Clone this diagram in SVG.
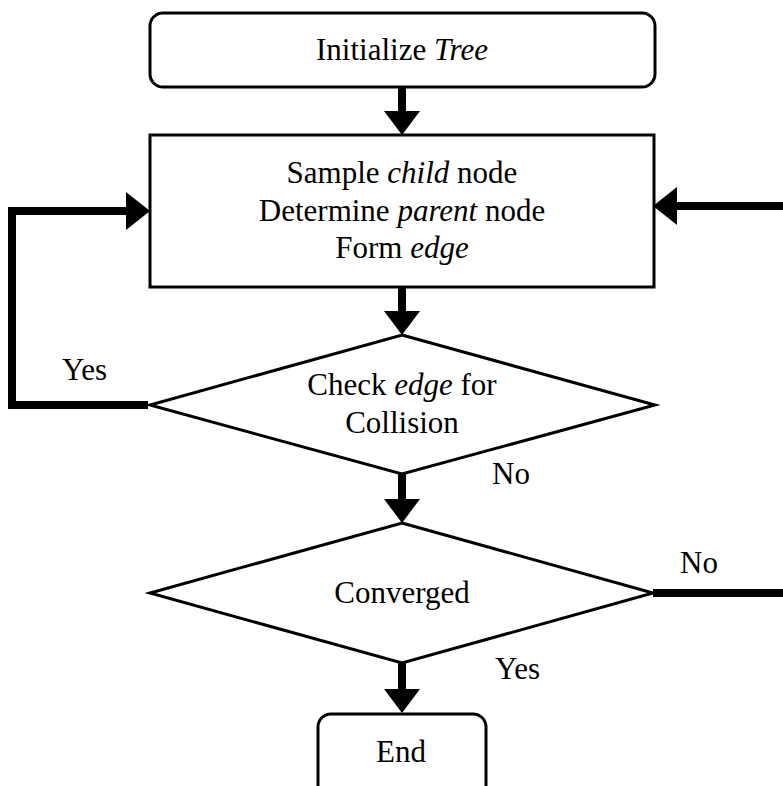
<svg xmlns="http://www.w3.org/2000/svg" width="783" height="786" viewBox="0 0 783 786">
<style>
.box{fill:#fff;stroke:#000;stroke-width:3}
.t{font-family:"Liberation Serif","Times New Roman",serif;font-size:31px;fill:#000;text-anchor:middle}
.l{font-family:"Liberation Serif","Times New Roman",serif;font-size:31px;fill:#000}
.c{fill:none;stroke:#000;stroke-width:8}
.h{fill:#000;stroke:none}
</style>
<rect width="783" height="786" fill="#fff"/>
<g id="connectors">
<line class="c" x1="402" y1="87" x2="402" y2="115"/>
<polygon class="h" points="384,111 420,111 402,135"/>
<line class="c" x1="402" y1="287" x2="402" y2="315"/>
<polygon class="h" points="384,311 420,311 402,335"/>
<line class="c" x1="402" y1="474" x2="402" y2="503"/>
<polygon class="h" points="384,499 420,499 402,523"/>
<line class="c" x1="402" y1="663" x2="402" y2="693"/>
<polygon class="h" points="384,689 420,689 402,713"/>
<path class="c" d="M148,405 H12 V211 H130" stroke-linejoin="miter"/>
<polygon class="h" points="126,192 150,211 126,230"/>
<path class="c" stroke-width="7" d="M653,593 H783"/>
<line class="c" x1="783" y1="206" x2="673" y2="206"/>
<polygon class="h" points="677,187 653,206 677,225"/>
</g>
<g id="init">
<rect class="box" x="150" y="13" width="505" height="74" rx="13"/>
<text class="t" x="402" y="60">Initialize <tspan font-style="italic">Tree</tspan></text>
</g>
<g id="sample">
<rect class="box" x="150" y="135" width="504" height="152"/>
<text class="t" x="402" y="183">Sample <tspan font-style="italic">child</tspan> node</text>
<text class="t" x="402" y="221">Determine <tspan font-style="italic">parent</tspan> node</text>
<text class="t" x="402" y="258">Form <tspan font-style="italic">edge</tspan></text>
</g>
<g id="check">
<polygon class="box" points="402,335 655,405 402,474 150,405"/>
<text class="t" x="402" y="395">Check <tspan font-style="italic">edge</tspan> for</text>
<text class="t" x="402" y="433">Collision</text>
</g>
<g id="converged">
<polygon class="box" points="402,523 653,593 402,663 150,593"/>
<text class="t" x="402" y="603">Converged</text>
</g>
<g id="end">
<rect class="box" x="318" y="714" width="168" height="90" rx="13"/>
<text class="t" x="401" y="762">End</text>
</g>
<g id="labels">
<text class="l" x="62" y="380">Yes</text>
<text class="l" x="492" y="484">No</text>
<text class="l" x="680" y="573">No</text>
<text class="l" x="495" y="679">Yes</text>
</g>
</svg>
